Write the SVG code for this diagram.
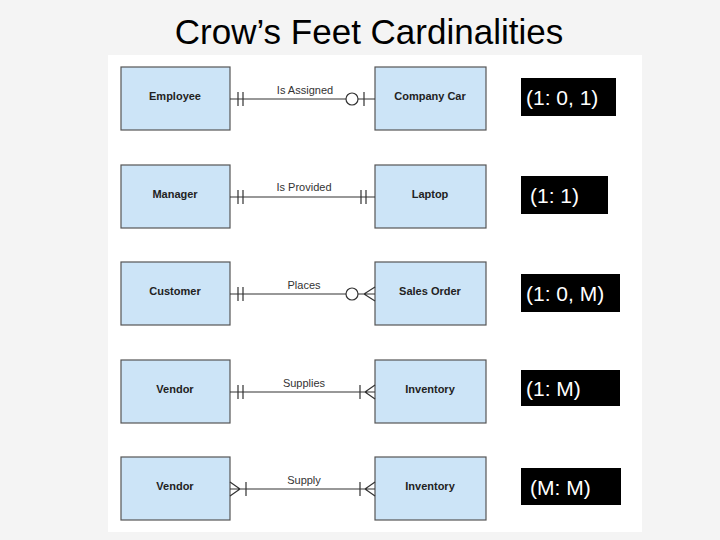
<svg xmlns="http://www.w3.org/2000/svg" width="720" height="540" viewBox="0 0 720 540">
<style>
.box{fill:#cce4f7;stroke:#555;stroke-width:1.2}
.nt{font-family:"Liberation Sans",Arial,sans-serif;font-size:11px;font-weight:bold;fill:#222;text-anchor:middle}
.rl{font-family:"Liberation Sans",Arial,sans-serif;font-size:11px;fill:#333;text-anchor:middle}
.ln{stroke:#333;stroke-width:1.2;fill:none}
.lb{fill:#000}
.lt{font-family:"Liberation Sans",Arial,sans-serif;font-size:21px;fill:#fff}
</style>
<rect width="720" height="540" fill="#f4f4f4"/>
<text x="369" y="44" font-family="Liberation Sans,Arial,sans-serif" font-size="35" text-anchor="middle" fill="#000">Crow’s Feet Cardinalities</text>
<rect x="108" y="55" width="534" height="477" fill="#fff"/>
<g id="n-employee"><rect class="box" x="121" y="67" width="109" height="63"/><text class="nt" x="175" y="100">Employee</text></g>
<g id="n-companycar"><rect class="box" x="375" y="67" width="111" height="63"/><text class="nt" x="430" y="100">Company Car</text></g>
<g id="n-manager"><rect class="box" x="121" y="165" width="109" height="63"/><text class="nt" x="175" y="198">Manager</text></g>
<g id="n-laptop"><rect class="box" x="375" y="165" width="111" height="63"/><text class="nt" x="430" y="198">Laptop</text></g>
<g id="n-customer"><rect class="box" x="121" y="262" width="109" height="63"/><text class="nt" x="175" y="295">Customer</text></g>
<g id="n-salesorder"><rect class="box" x="375" y="262" width="111" height="63"/><text class="nt" x="430" y="295">Sales Order</text></g>
<g id="n-vendor1"><rect class="box" x="121" y="360" width="109" height="63"/><text class="nt" x="175" y="393">Vendor</text></g>
<g id="n-inventory1"><rect class="box" x="375" y="360" width="111" height="63"/><text class="nt" x="430" y="393">Inventory</text></g>
<g id="n-vendor2"><rect class="box" x="121" y="457" width="109" height="63"/><text class="nt" x="175" y="490">Vendor</text></g>
<g id="n-inventory2"><rect class="box" x="375" y="457" width="111" height="63"/><text class="nt" x="430" y="490">Inventory</text></g>
<g id="connectors">
<path class="ln" d="M230 99H346M358 99H375M238 92V106M243 92V106M364 92V106"/><circle class="ln" cx="352" cy="99" r="6"/>
<text class="rl" x="305" y="94">Is Assigned</text>
<path class="ln" d="M230 197H375M238 190V204M243 190V204M361 190V204M366 190V204"/>
<text class="rl" x="304" y="191">Is Provided</text>
<path class="ln" d="M230 294H346M358 294H375M238 287V301M243 287V301M364 294L375 287M364 294L375 301"/><circle class="ln" cx="352" cy="294" r="6"/>
<text class="rl" x="304" y="289">Places</text>
<path class="ln" d="M230 392H375M238 385V399M243 385V399M360 385V399M365 392L375 385M365 392L375 399"/>
<text class="rl" x="304" y="387">Supplies</text>
<path class="ln" d="M230 489H375M230 482L240 489M230 496L240 489M246 482V496M360 482V496M365 489L375 482M365 489L375 496"/>
<text class="rl" x="304" y="484">Supply</text>
</g>
<rect class="lb" x="521" y="78" width="95" height="38"/><text class="lt" x="526" y="105">(1: 0, 1)</text>
<rect class="lb" x="521" y="176" width="87" height="38"/><text class="lt" x="530" y="203">(1: 1)</text>
<rect class="lb" x="521" y="274" width="99" height="38"/><text class="lt" x="526" y="301">(1: 0, M)</text>
<rect class="lb" x="521" y="370" width="99" height="36"/><text class="lt" x="526" y="396">(1: M)</text>
<rect class="lb" x="521" y="468" width="100" height="37"/><text class="lt" x="530" y="495">(M: M)</text>
</svg>
